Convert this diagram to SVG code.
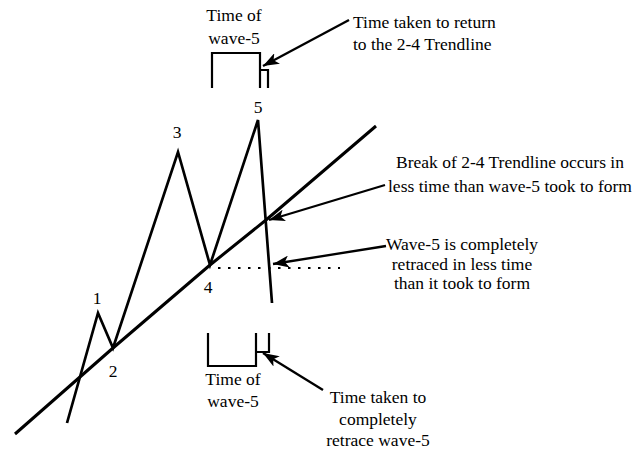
<svg xmlns="http://www.w3.org/2000/svg" width="635" height="452" viewBox="0 0 635 452">
<style>
text{font-family:"Liberation Serif","Times New Roman",serif;font-size:17.5px;fill:#000}
.ln{fill:none;stroke:#000;stroke-width:2.7;stroke-linejoin:miter;stroke-linecap:butt}
.br{fill:none;stroke:#000;stroke-width:2.2}
.ar{fill:none;stroke:#000;stroke-width:2.3}
.dot{fill:none;stroke:#000;stroke-width:2.2;stroke-dasharray:2.5,7.5}
</style>
<defs>
<marker id="ah" markerUnits="userSpaceOnUse" markerWidth="18" markerHeight="12" refX="16" refY="6" orient="auto">
<path d="M0,0 L16,6 L0,12 L4,6 z" fill="#000"/>
</marker>
</defs>
<rect width="635" height="452" fill="#fff"/>
<g id="chart">
<path class="ln" d="M67,423 L98,313 L113,348 L178,152 L210,265 L258,120 L272,303"/>
<path class="ln" d="M15,434 L113,348 L210,265 L266,220 L376,126" style="stroke-width:3"/>
<path class="dot" d="M218,268 H340"/>
</g>
<g id="labels">
<text x="97" y="304" text-anchor="middle">1</text>
<text x="113" y="377" text-anchor="middle">2</text>
<text x="177" y="138" text-anchor="middle">3</text>
<text x="208" y="293" text-anchor="middle">4</text>
<text x="258" y="113" text-anchor="middle">5</text>
</g>
<g id="top-bracket">
<path class="br" d="M212,88 V53 H260 V88 M260,70 H268 V88"/>
<text x="234" y="21" text-anchor="middle">Time of</text>
<text x="234" y="44" text-anchor="middle">wave-5</text>
</g>
<g id="bottom-bracket">
<path class="br" d="M208,333 V366 H256 V333 M256,352 H269 V333"/>
<text x="233" y="385" text-anchor="middle">Time of</text>
<text x="233" y="407" text-anchor="middle">wave-5</text>
</g>
<g id="note-return">
<text x="353" y="28">Time taken to return</text>
<text x="353" y="50">to the 2-4 Trendline</text>
</g>
<g id="note-break">
<text x="510" y="168" text-anchor="middle">Break of 2-4 Trendline occurs in</text>
<text x="510" y="192" text-anchor="middle">less time than wave-5 took to form</text>
</g>
<g id="note-retraced">
<text x="462" y="250" text-anchor="middle">Wave-5 is completely</text>
<text x="462" y="270" text-anchor="middle">retraced in less time</text>
<text x="462" y="289" text-anchor="middle">than it took to form</text>
</g>
<g id="note-retrace">
<text x="378" y="403" text-anchor="middle">Time taken to</text>
<text x="378" y="425" text-anchor="middle">completely</text>
<text x="378" y="446" text-anchor="middle">retrace wave-5</text>
</g>
<g id="connectors">
<line class="ar" x1="349" y1="20" x2="263" y2="66" marker-end="url(#ah)"/>
<line class="ar" x1="385" y1="185" x2="269" y2="220" marker-end="url(#ah)"/>
<line class="ar" x1="386" y1="246" x2="273" y2="264" marker-end="url(#ah)"/>
<line class="ar" x1="323" y1="390" x2="263" y2="353" marker-end="url(#ah)"/>
</g>
</svg>
